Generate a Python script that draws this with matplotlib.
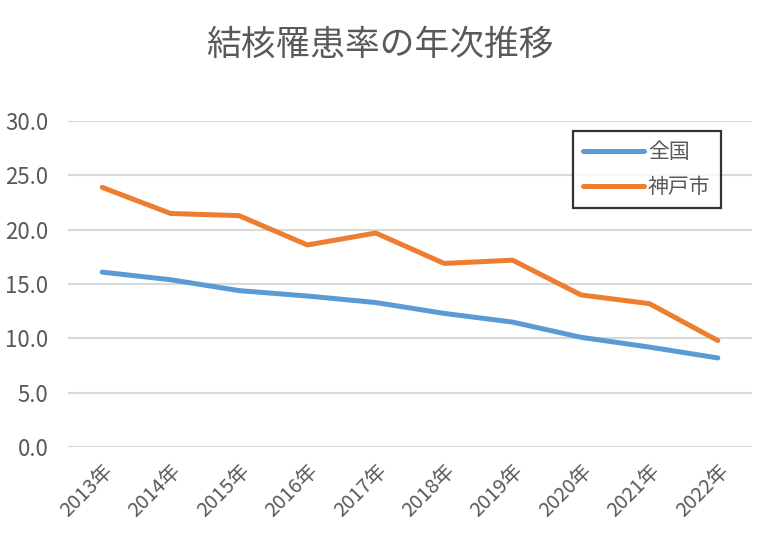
import numpy as np
import matplotlib.pyplot as plt

plt.rcParams['font.family'] = ['Noto Sans CJK JP', 'DejaVu Sans']

# 結核罹患率 (人口10万対)
years = ['2013年', '2014年', '2015年', '2016年', '2017年',
         '2018年', '2019年', '2020年', '2021年', '2022年']
zenkoku = [16.1, 15.4, 14.4, 13.9, 13.3, 12.3, 11.5, 10.1, 9.2, 8.2]
kobe = [23.9, 21.5, 21.3, 18.6, 19.7, 16.9, 17.2, 14.0, 13.2, 9.8]
yticks = [0, 5, 10, 15, 20, 25, 30]

gray = '#595959'

fig = plt.figure(figsize=(7.6, 5.36), dpi=100)
ax = fig.add_axes([0.0895, 0.166, 0.9, 0.608])

x = np.arange(len(years))
ax.plot(x, zenkoku, color='#5B9BD5', lw=3.6, label='全国', solid_capstyle='round')
ax.plot(x, kobe, color='#ED7D31', lw=3.6, label='神戸市', solid_capstyle='round')

ax.set_xlim(-0.5, len(years) - 0.5)
ax.set_ylim(0, 30)
ax.set_yticks(yticks)
ax.set_yticklabels(['%.1f' % v for v in yticks], fontsize=16, color=gray)
ax.set_xticks(x)
ax.set_xticklabels(years, fontsize=14.5, color=gray, rotation=45,
                   ha='right', rotation_mode='anchor')
ax.tick_params(axis='y', length=0, pad=14)
ax.tick_params(axis='x', length=0, pad=10)
ax.grid(axis='y', color='#D9D9D9', lw=1.5)
ax.set_axisbelow(True)
for s in ax.spines.values():
    s.set_visible(False)

leg = ax.legend(loc='upper left', bbox_to_anchor=(573 / 760, 1 - 131 / 536),
                bbox_transform=fig.transFigure, borderaxespad=0, fontsize=15,
                frameon=True, fancybox=False, edgecolor='black',
                handlelength=2.9, handletextpad=0.2, borderpad=0.5,
                labelspacing=0.6)
leg.get_frame().set_linewidth(1.6)
for t in leg.get_texts():
    t.set_color(gray)

fig.text(0.5, 1 - 45 / 536, '結核罹患率の年次推移', ha='center', va='center',
         fontsize=25, color=gray)

fig.savefig('out.png', dpi=100)
